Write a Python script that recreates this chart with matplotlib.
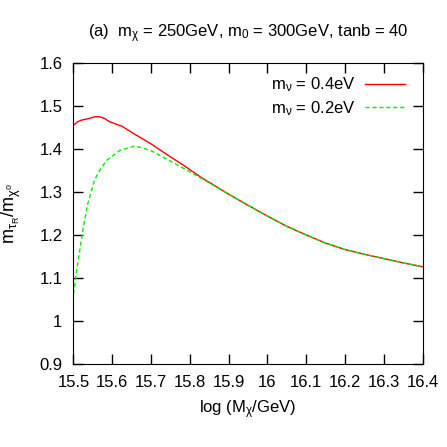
import matplotlib
matplotlib.use("Agg")
import matplotlib.pyplot as plt

plt.rcParams['font.family'] = ['Liberation Sans', 'DejaVu Sans']
plt.rcParams['mathtext.fontset'] = 'custom'
plt.rcParams['mathtext.rm'] = 'Liberation Sans'
plt.rcParams['mathtext.it'] = 'Liberation Sans'
plt.rcParams['mathtext.default'] = 'regular'

# red curve, m_nu = 0.4 eV
x_red = [15.50, 15.51, 15.52, 15.54, 15.555, 15.568, 15.58, 15.594, 15.625, 15.655,
         15.698, 15.741, 15.784, 15.827, 15.896, 15.95, 16.00, 16.05, 16.10, 16.15,
         16.20, 16.25, 16.30, 16.35, 16.40]
y_red = [1.456, 1.464, 1.468, 1.472, 1.476, 1.476, 1.472, 1.464, 1.454, 1.437,
         1.414, 1.388, 1.363, 1.336, 1.298, 1.270, 1.245, 1.221, 1.201, 1.182,
         1.167, 1.156, 1.146, 1.136, 1.127]

# green curve, m_nu = 0.2 eV
x_green = [15.50, 15.511, 15.524, 15.537, 15.554, 15.568, 15.586, 15.62, 15.659, 15.698,
           15.741, 15.784, 15.827, 15.896, 15.95, 16.00, 16.05, 16.10, 16.15, 16.20,
           16.25, 16.30, 16.35, 16.40]
y_green = [1.064, 1.134, 1.212, 1.274, 1.328, 1.352, 1.375, 1.398, 1.408, 1.398,
           1.377, 1.356, 1.334, 1.298, 1.270, 1.245, 1.221, 1.201, 1.182, 1.167,
           1.156, 1.146, 1.136, 1.127]

xticks = [15.5, 15.6, 15.7, 15.8, 15.9, 16.0, 16.1, 16.2, 16.3, 16.4]
xlabels = ["15.5", "15.6", "15.7", "15.8", "15.9", "16", "16.1", "16.2", "16.3", "16.4"]
yticks = [0.9, 1.0, 1.1, 1.2, 1.3, 1.4, 1.5, 1.6]
ylabels = ["0.9", "1", "1.1", "1.2", "1.3", "1.4", "1.5", "1.6"]

fig = plt.figure(figsize=(4.47, 4.47), dpi=100)
ax = fig.add_axes([0.1644, 0.185, 0.781, 0.673])

ax.plot(x_red, y_red, '-', color='#ff0000', lw=1, label=r'm$_\nu$ = 0.4eV')
ax.plot(x_green, y_green, '--', color='#00ee00', lw=1, dashes=(3, 2), label=r'm$_\nu$ = 0.2eV')

ax.set_xlim(15.5, 16.4)
ax.set_ylim(0.9, 1.6)
ax.set_xticks(xticks)
ax.set_xticklabels(xlabels)
ax.set_yticks(yticks)
ax.set_yticklabels(ylabels)
ax.tick_params(direction='in', length=7, width=1, top=True, right=True, labelsize=12, pad=8)

ax.set_xlabel(r'log (M$_\chi$/GeV)', fontsize=12, labelpad=6)
ax.set_ylabel(r'm$_{\tau_R}$/m$_{\chi^o}$', fontsize=13, labelpad=12)
ax.set_title(r'(a)  m$_\chi$ = 250GeV, m$_0$ = 300GeV, tanb = 40', fontsize=12, pad=19)

ax.legend(loc='upper right', bbox_to_anchor=(0.95, 0.96), frameon=False, markerfirst=False,
          fontsize=12, handlelength=2.4, handletextpad=0.6, borderaxespad=0, borderpad=0,
          labelspacing=0.3)

fig.savefig("out.png", dpi=100)
